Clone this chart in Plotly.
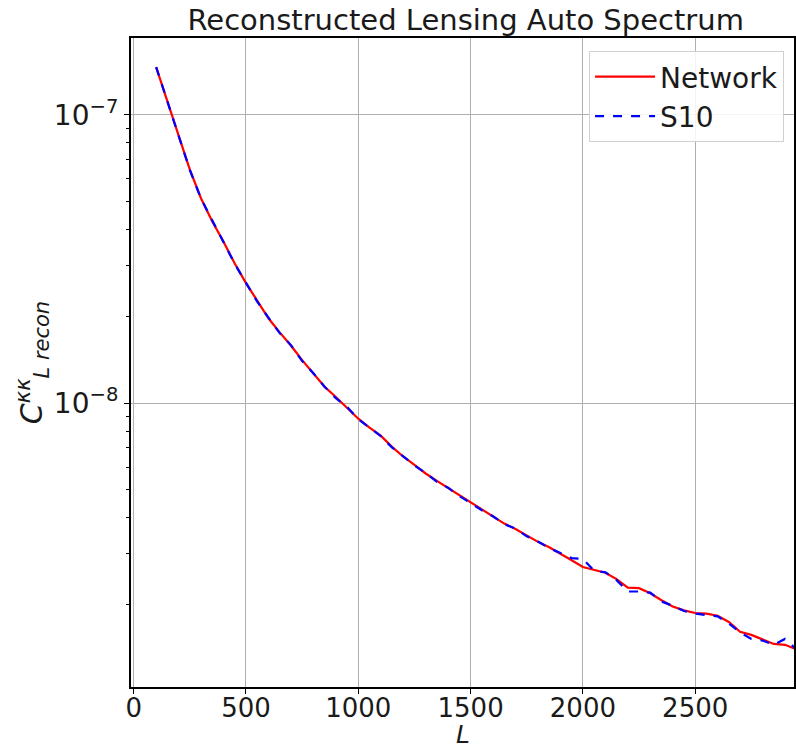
import plotly.graph_objects as go

# Multipole L
L_vals = [100, 150, 200, 250, 300, 350, 400, 450, 500, 550, 600, 650, 700, 750, 800, 850,
          900, 950, 1000, 1050, 1100, 1150, 1200, 1250, 1300, 1350, 1400, 1450, 1500, 1550,
          1600, 1650, 1700, 1750, 1800, 1850, 1900, 1950, 2000, 2050, 2100, 2150, 2200, 2250,
          2300, 2350, 2400, 2450, 2500, 2550, 2600, 2650, 2700, 2750, 2800, 2850, 2900, 2950, 3000]

# C_L values in units of 1e-9
network_e9 = [146.6, 112.2, 85.1, 64.6, 51.3, 42.7, 36.3, 30.5, 26.1, 22.6, 19.7, 17.6, 15.85,
              14.1, 12.7, 11.4, 10.5, 9.66, 8.83, 8.22, 7.71, 7.05, 6.53, 6.11, 5.70, 5.37,
              5.07, 4.79, 4.52, 4.27, 4.04, 3.82, 3.66, 3.47, 3.30, 3.16, 3.01, 2.85, 2.70,
              2.64, 2.58, 2.45, 2.29, 2.28, 2.19, 2.07, 1.97, 1.91, 1.87, 1.86, 1.83, 1.74,
              1.61, 1.57, 1.51, 1.46, 1.45, 1.40, 1.35]

s10_e9 = [146.6, 112.0, 85.3, 64.4, 51.2, 42.8, 36.2, 30.4, 26.2, 22.5, 19.8, 17.5, 15.9,
          14.0, 12.7, 11.4, 10.4, 9.70, 8.80, 8.25, 7.68, 7.02, 6.55, 6.08, 5.72, 5.33,
          5.09, 4.76, 4.50, 4.25, 4.05, 3.80, 3.67, 3.45, 3.31, 3.14, 3.02, 2.90, 2.88,
          2.62, 2.59, 2.43, 2.22, 2.22, 2.20, 2.05, 1.98, 1.90, 1.86, 1.84, 1.82, 1.72,
          1.60, 1.52, 1.50, 1.45, 1.52, 1.40, 1.36]

network = [v * 1e-9 for v in network_e9]
s10 = [v * 1e-9 for v in s10_e9]

x_ticks = [0, 500, 1000, 1500, 2000, 2500]
y_ticks = [1e-7, 1e-8]
y_ticktext = ["10<sup>\u22127</sup>", "10<sup>\u22128</sup>"]

FONT = "DejaVu Sans"

fig = go.Figure()
fig.add_trace(go.Scatter(x=L_vals, y=network, mode="lines", name="Network",
                         line=dict(color="#ff0000", width=2.2)))
fig.add_trace(go.Scatter(x=L_vals, y=s10, mode="lines", name="S10",
                         line=dict(color="#0000ff", width=2.2, dash="dash")))

fig.update_layout(
    width=796, height=749,
    margin=dict(l=131, r=0, t=38, b=62),
    paper_bgcolor="white", plot_bgcolor="white",
    font=dict(family=FONT, color="#1a1a1a", size=26),
    title=dict(text="Reconstructed Lensing Auto Spectrum", x=0.585, xanchor="center",
               y=0.974, yanchor="middle", font=dict(size=29, family=FONT, color="#1a1a1a")),
    legend=dict(x=0.985, y=0.98, xanchor="right", yanchor="top",
                bgcolor="rgba(255,255,255,0.85)", bordercolor="#d0d0d0", borderwidth=1,
                font=dict(size=28, family=FONT), tracegroupgap=2,
                itemwidth=60),
    showlegend=True,
    annotations=[dict(text="<i>L</i>", xref="paper", yref="paper", x=0.5, y=-0.073,
                      xanchor="center", yanchor="middle", showarrow=False,
                      font=dict(size=25, family=FONT, color="#1a1a1a"))],
)

fig.update_xaxes(
    range=[-12, 2940], tickvals=x_ticks, ticks="outside", ticklen=5, tickwidth=1.2,
    tickcolor="black", showline=True, linecolor="black", linewidth=2, mirror=True,
    showgrid=True, gridcolor="#b0b0b0", gridwidth=1.2, zeroline=False,
    tickfont=dict(size=26, family=FONT), ticklabelstandoff=-8,
)
fig.update_yaxes(
    type="log", range=[-8.985, -6.733], tickvals=y_ticks, ticktext=y_ticktext,
    ticks="outside", ticklen=5, tickwidth=1.2, tickcolor="black",
    showline=True, linecolor="black", linewidth=2, mirror=True,
    showgrid=True, gridcolor="#b0b0b0", gridwidth=1.2, zeroline=False,
    tickfont=dict(size=28, family=FONT),
    minor=dict(ticks="outside", ticklen=3, tickcolor="black", showgrid=False,
               tickvals=[2e-9, 3e-9, 4e-9, 5e-9, 6e-9, 7e-9, 8e-9, 9e-9,
                         2e-8, 3e-8, 4e-8, 5e-8, 6e-8, 7e-8, 8e-8, 9e-8,
                         2e-7]),
    title=dict(text="<i>C<sup>\u03ba\u03ba</sup><sub>L recon</sub></i>",
               font=dict(size=30, family=FONT), standoff=2),
)

fig.write_html("out.html")
